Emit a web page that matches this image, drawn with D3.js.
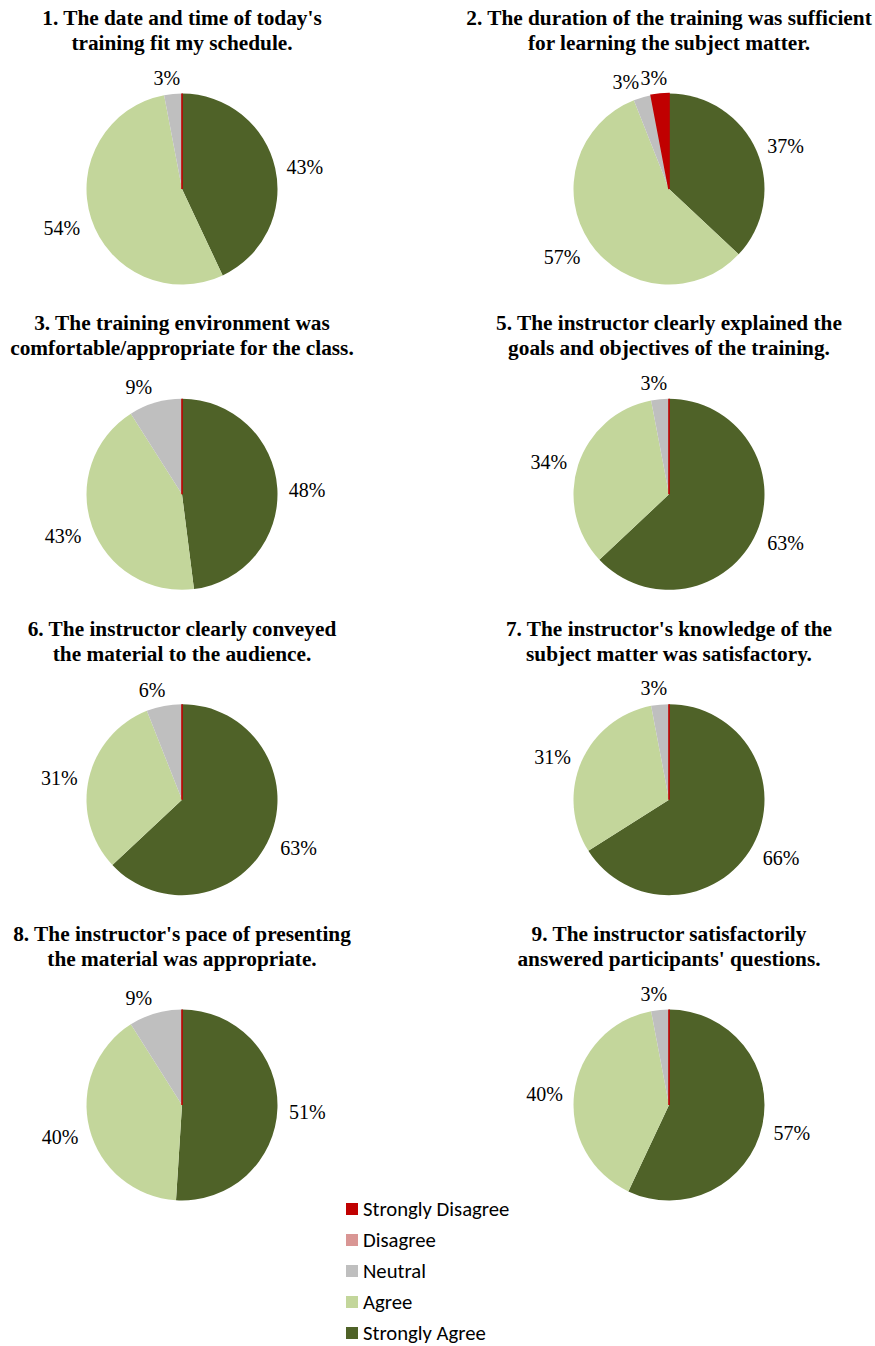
<!DOCTYPE html>
<html>
<head>
<meta charset="utf-8">
<script src="https://cdn.jsdelivr.net/npm/d3@7"></script>
<style>
  body { margin: 0; background: #fff; }
  svg { display: block; }
</style>
</head>
<body>
<svg id="chart" width="875" height="1346"></svg>
<script>
// Response categories (legend order)
const categories = ["Strongly Disagree", "Disagree", "Neutral", "Agree", "Strongly Agree"];

// Survey statements, one per pie (two title lines each)
const questionTitles = [
  ["1. The date and time of today's", "training fit my schedule."],
  ["2. The duration of the training was sufficient", "for learning the subject matter."],
  ["3. The training environment was", "comfortable/appropriate for the class."],
  ["5. The instructor clearly explained the", "goals and objectives of the training."],
  ["6. The instructor clearly conveyed", "the material to the audience."],
  ["7. The instructor's knowledge of the", "subject matter was satisfactory."],
  ["8. The instructor's pace of presenting", "the material was appropriate."],
  ["9. The instructor satisfactorily", "answered participants' questions."]
];

// Percent of responses per question
const stronglyDisagree = [0, 3, 0, 0, 0, 0, 0, 0];
const disagree         = [0, 0, 0, 0, 0, 0, 0, 0];
const neutral          = [3, 3, 9, 3, 6, 3, 9, 3];
const agree            = [54, 57, 43, 34, 31, 31, 40, 40];
const stronglyAgree    = [43, 37, 48, 63, 63, 66, 51, 57];

const seriesByCategory = {
  "Strongly Disagree": stronglyDisagree,
  "Disagree": disagree,
  "Neutral": neutral,
  "Agree": agree,
  "Strongly Agree": stronglyAgree
};

const color = d3.scaleOrdinal()
  .domain(categories)
  .range(["#C00000", "#D99694", "#BFBFBF", "#C3D69B", "#4F6228"]);

const svg = d3.select("#chart");
const serif = "'Liberation Serif', 'Times New Roman', serif";
const sans = "Carlito, Calibri, Lato, sans-serif";

// 2 x 4 grid of pies
const colX = d3.scalePoint().domain([0, 1]).range([182, 669]);
const rowY = d3.scalePoint().domain([0, 1, 2, 3]).range([189, 1105]);
const radius = 95.5;

// Slices run clockwise from 12 o'clock: Strongly Agree first
const sliceOrder = categories.slice().reverse();
const pie = d3.pie().sort(null).value(d => d.value);
const arc = d3.arc().innerRadius(0).outerRadius(radius);

questionTitles.forEach((lines, i) => {
  const cx = colX(i % 2);
  const cy = rowY(Math.floor(i / 2));
  const g = svg.append("g").attr("transform", `translate(${cx},${cy})`);

  const slices = pie(sliceOrder.map(c => ({ category: c, value: seriesByCategory[c][i] })));

  g.selectAll("path.slice")
    .data(slices)
    .join("path")
    .attr("class", "slice")
    .attr("d", arc)
    .attr("fill", d => color(d.data.category))
    .attr("stroke", d => d.data.category === "Strongly Disagree" ? color(d.data.category) : "none")
    .attr("stroke-width", 1.6);

  // Percentage labels just outside the end of each non-empty slice
  const anchorR = radius + 11.5, halfH = 8;
  g.selectAll("text.pct")
    .data(slices.filter(d => d.data.value > 0))
    .join("text")
    .attr("class", "pct")
    .attr("font-family", serif)
    .attr("font-size", 20)
    .attr("fill", "#000")
    .attr("text-anchor", "middle")
    .attr("dy", "0.35em")
    .text(d => d.data.value + "%")
    .each(function(d) {
      const a = (d.startAngle + d.endAngle) / 2;
      const s = Math.sin(a), c = Math.cos(a);
      const halfW = this.getComputedTextLength() / 2;
      const side = Math.max(-1, Math.min(1, 4 * s));
      const x = anchorR * s + halfW * side;
      const y = -anchorR * c - halfH * c + 3;
      d3.select(this).attr("x", x).attr("y", y);
    });

  // Title
  svg.append("text")
    .attr("x", cx)
    .attr("font-family", serif)
    .attr("font-weight", "bold")
    .attr("font-size", 21.3)
    .attr("fill", "#000")
    .attr("text-anchor", "middle")
    .selectAll("tspan")
    .data(lines)
    .join("tspan")
    .attr("x", cx)
    .attr("y", (d, k) => cy - 164 + k * 25)
    .text(d => d);
});

// Legend
const legendY = d3.scalePoint().domain(categories).range([1209, 1333]);
const legend = svg.append("g").attr("class", "legend");
const items = legend.selectAll("g")
  .data(categories)
  .join("g")
  .attr("transform", d => `translate(346,${legendY(d)})`);

items.append("rect")
  .attr("x", 0).attr("y", -6)
  .attr("width", 12).attr("height", 12)
  .attr("fill", d => color(d));

items.append("text")
  .attr("x", 17)
  .attr("dy", "0.35em")
  .attr("font-family", sans)
  .attr("font-size", 20.7)
  .attr("fill", "#000")
  .text(d => d);
</script>
</body>
</html>
